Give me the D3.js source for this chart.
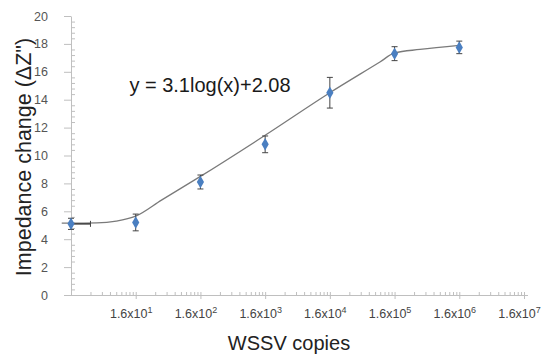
<!DOCTYPE html>
<html>
<head>
<meta charset="utf-8">
<script src="https://cdn.jsdelivr.net/npm/d3@7"></script>
<style>
  body { margin: 0; background: #fff; }
  svg { display: block; font-family: "Liberation Sans", Arial, sans-serif; }
  .axis path, .axis line { stroke: #bfbfbf; }
</style>
</head>
<body>
<svg id="chart" width="546" height="355"></svg>
<script>
// measured points (copies vs impedance change)
var copies = [1.6, 16, 160, 1600, 16000, 160000, 1600000];
var impedance = [5.1, 5.2, 8.1, 10.8, 14.5, 17.3, 17.75];
var errY = [0.4, 0.6, 0.5, 0.6, 1.1, 0.5, 0.45];
var errXTo = [3.2, null, null, null, null, null, null];

// fitted trend curve
var curveX = [1.15, 1.6, 4, 8, 16, 40, 160, 1600, 16000, 95000, 160000, 395000, 1600000];
var curveY = [5.15, 5.15, 5.17, 5.3, 5.65, 6.8, 8.5, 11.45, 14.5, 16.7, 17.35, 17.6, 17.9];

var xTickExp = [1, 2, 3, 4, 5, 6, 7];
var yTicks = [0, 2, 4, 6, 8, 10, 12, 14, 16, 18, 20];

(function () {
    "use strict";
    var svg = d3.select("#chart"),
        x = d3.scaleLog().domain([1.6, 1.6e7]).range([71, 524]),
        y = d3.scaleLinear().domain([0, 20]).range([295, 16]),
        minorX = [], minorY = [], n, k, v;

    for (n = 0; n < 7; n += 1) {
        for (k = 2; k <= 9; k += 1) {
            minorX.push(1.6 * k * Math.pow(10, n));
        }
    }
    for (v = 0; v < 20; v += 0.4) {
        if (Math.abs(v / 2 - Math.round(v / 2)) > 0.01) {
            minorY.push(+v.toFixed(1));
        }
    }

    // y axis
    svg.append("g").attr("class", "axis")
        .attr("transform", "translate(71,0)")
        .call(d3.axisRight(y).tickValues(minorY).tickSize(4).tickFormat(""))
        .select(".domain").remove();
    var gy = svg.append("g").attr("class", "axis")
        .attr("transform", "translate(71,0)")
        .call(d3.axisLeft(y).tickValues(yTicks).tickSize(7).tickSizeOuter(0));
    gy.selectAll("text")
        .attr("x", -23)
        .style("font-size", "12.5px")
        .style("fill", "#555");

    // x axis
    svg.append("g").attr("class", "axis")
        .attr("transform", "translate(0,295)")
        .call(d3.axisTop(x).tickValues(minorX).tickSize(3).tickFormat(""))
        .select(".domain").remove();
    var gx = svg.append("g").attr("class", "axis")
        .attr("transform", "translate(0,295)")
        .call(d3.axisBottom(x)
            .tickValues(xTickExp.map(function (e) { return 1.6 * Math.pow(10, e); }))
            .tickSize(4).tickSizeOuter(0).tickFormat(""));
    gx.select(".domain").attr("d", "M71,0.5H528");
    gx.selectAll(".tick line").attr("y1", -3);
    gx.selectAll(".tick").each(function (d, i) {
        var t = d3.select(this).append("text")
            .attr("x", -5).attr("y", 23)
            .attr("text-anchor", "middle")
            .style("font-size", "12.5px")
            .style("fill", "#444");
        t.append("tspan").text("1.6x10");
        t.append("tspan").attr("dy", -5).style("font-size", "9px").text(xTickExp[i]);
    });

    // trend curve
    var line = d3.line()
        .x(function (d) { return x(d[0]); })
        .y(function (d) { return y(d[1]); })
        .curve(d3.curveMonotoneX);
    svg.append("path")
        .datum(d3.zip(curveX, curveY))
        .attr("d", line)
        .attr("fill", "none")
        .attr("stroke", "#7a7a7a")
        .attr("stroke-width", 1.3);

    var pts = copies.map(function (c, i) {
        return {x: c, y: impedance[i], e: errY[i], ex: errXTo[i]};
    });

    // error bars
    var eb = svg.append("g").attr("stroke", "#444").attr("stroke-width", 1);
    pts.forEach(function (p) {
        var px = x(p.x);
        eb.append("line").attr("x1", px).attr("x2", px)
            .attr("y1", y(p.y - p.e)).attr("y2", y(p.y + p.e));
        [p.y - p.e, p.y + p.e].forEach(function (yy) {
            eb.append("line").attr("x1", px - 3).attr("x2", px + 3)
                .attr("y1", y(yy)).attr("y2", y(yy));
        });
        if (p.ex) {
            eb.append("line").attr("x1", px).attr("x2", x(p.ex))
                .attr("y1", y(p.y)).attr("y2", y(p.y)).attr("stroke-width", 1.6);
            eb.append("line").attr("x1", x(p.ex)).attr("x2", x(p.ex))
                .attr("y1", y(p.y) - 3).attr("y2", y(p.y) + 3);
        }
    });

    // markers
    svg.append("g").selectAll("path").data(pts).enter().append("path")
        .attr("d", d3.symbol().type(d3.symbolDiamond).size(45))
        .attr("transform", function (d) {
            return "translate(" + x(d.x) + "," + y(d.y) + ")";
        })
        .attr("fill", "#4a7fc1");

    // texts
    svg.append("text")
        .attr("x", 210).attr("y", 92)
        .attr("text-anchor", "middle")
        .style("font-size", "20px").style("fill", "#1a1a1a")
        .text("y = 3.1log(x)+2.08");
    svg.append("text")
        .attr("x", 289).attr("y", 350)
        .attr("text-anchor", "middle")
        .style("font-size", "20px").style("fill", "#222")
        .text("WSSV copies");
    svg.append("text")
        .attr("transform", "translate(31,157) rotate(-90)")
        .attr("text-anchor", "middle")
        .style("font-size", "21.5px").style("fill", "#222")
        .text("Impedance change (\u0394Z\")");
}());
</script>
</body>
</html>
